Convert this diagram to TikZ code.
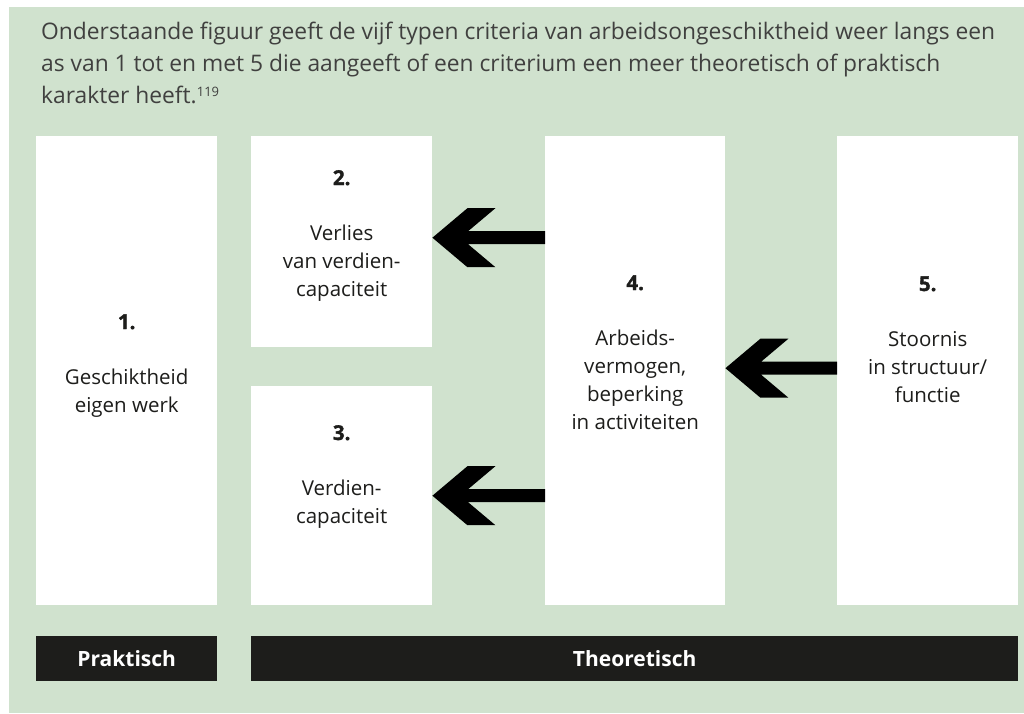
\documentclass[tikz,border=0pt]{standalone}
\usepackage{fontspec}
\setmainfont{Open Sans}
\newfontfamily\zwaar{Open Sans}[BoldFeatures={FakeBold=1.6}]
\usepackage{tikz}
\usetikzlibrary{calc, positioning}

\definecolor{achtergrond}{RGB}{208,226,206}
\definecolor{balkkleur}{RGB}{29,29,27}
\definecolor{tekstkleur}{RGB}{64,64,63}

\tikzset{
  vak/.style={fill=white, inner sep=0pt, anchor=north west},
  balk/.style={fill=balkkleur, inner sep=0pt, anchor=north west, minimum height=45pt,
    text=white, font=\fontsize{21}{24}\selectfont\bfseries},
  nummer/.style={inner sep=0pt, anchor=base, text=balkkleur, font=\fontsize{20.5}{24}\selectfont\zwaar\bfseries},
  omschrijving/.style={inner sep=0pt, align=center, text=balkkleur, font=\fontsize{20.5}{28}\selectfont}
}

% thick arrow pointing left: tip at #1, tail at node #2
\newcommand{\pijl}[2]{%
  \coordinate (pt) at (#1);
  \fill[black] (pt) -- ++(35,-29.5) -- ++(28,0) -- ++(-27.3,23)
    -- ($(#2 |- pt)+(0,-6.5)$) -- ($(#2 |- pt)+(0,6.5)$)
    -- ($(pt)+(35.7,6.5)$) -- ++(27.3,23) -- ++(-28,0) -- cycle;}

\begin{document}
\begin{tikzpicture}[x=1pt, y=-1pt]
\useasboundingbox (0,0) rectangle (1024,713);
\fill[achtergrond] (9,7) rectangle (1024,713);

% Intro text
\node[anchor=north west, inner sep=0pt, align=left, text=tekstkleur,
  font=\fontsize{22.8}{32}\selectfont] (intro) at (41,16.6)
  {\strut Onderstaande figuur geeft de vijf typen criteria van arbeidsongeschiktheid weer langs een\\
   as van 1 tot en met 5 die aangeeft of een criterium een meer theoretisch of praktisch\\
   karakter heeft.{\fontsize{13}{14}\selectfont\raisebox{7pt}{119}}};

% Boxes
\node[vak, minimum width=181pt, minimum height=469pt] (vak1) at (36,136) {};
\node[vak, minimum width=181pt, minimum height=211pt] (vak2) at (251,136) {};
\node[vak, minimum width=181pt, minimum height=219pt] (vak3) at (251,386) {};
\node[vak, minimum width=180pt, minimum height=469pt] (vak4) at (545,136) {};
\node[vak, minimum width=181pt, minimum height=469pt] (vak5) at (837,136) {};

% Numbers and descriptions
\node[nummer] (nr1) at (vak1.center |- 0,329) {1.};
\node[omschrijving, below=35.4pt of nr1.base] (tekst1) {\strut Geschiktheid\\eigen werk};
\node[nummer] (nr2) at (vak2.center |- 0,185) {2.};
\node[omschrijving, below=35.4pt of nr2.base] (tekst2) {\strut Verlies\\van verdien-\\capaciteit};
\node[nummer] (nr3) at (vak3.center |- 0,440) {3.};
\node[omschrijving, below=35.4pt of nr3.base] (tekst3) {\strut Verdien-\\capaciteit};
\node[nummer] (nr4) at (vak4.center |- 0,290) {4.};
\node[omschrijving, below=35.4pt of nr4.base] (tekst4) {\strut Arbeids-\\vermogen,\\beperking\\in activiteiten};
\node[nummer] (nr5) at (vak5.center |- 0,291) {5.};
\node[omschrijving, below=35.4pt of nr5.base] (tekst5) {\strut Stoornis\\in structuur/\\functie};

% Arrows
\pijl{[yshift=4pt]vak2.east}{vak4.west}
\pijl{vak3.east}{vak4.west}
\pijl{[yshift=2.5pt]vak4.east}{vak5.west}

% Bars
\node[balk, minimum width=181pt] (praktisch) at (36,636) {Praktisch};
\node[balk, minimum width=767pt] (theoretisch) at (251,636) {Theoretisch};
\end{tikzpicture}
\end{document}
